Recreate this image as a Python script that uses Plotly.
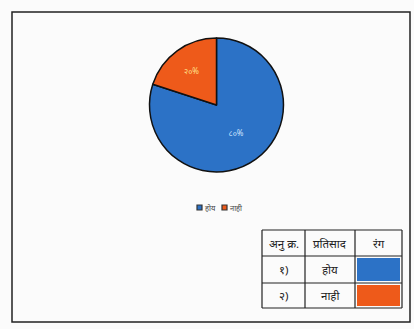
import plotly.graph_objects as go

categories = ["होय", "नाही"]
values = [80, 20]
pct_labels = ["८०%", "२०%"]
colors = ["#2c72c6", "#ee5a1a"]
table_header = ["अनु क्र.", "प्रतिसाद", "रंग"]
serials = ["१)", "२)"]

W, H = 414, 329
def px(x): return x / W
def py(y): return 1 - y / H

FONT = "Noto Sans, DejaVu Sans, sans-serif"

fig = go.Figure()
fig.add_trace(go.Pie(
    labels=categories, values=values, text=pct_labels,
    textinfo="text", textposition="inside",
    insidetextfont=dict(color=["#cfe6ff", "#ffe08a"], size=8, family=FONT),
    marker=dict(colors=colors, line=dict(color="#111111", width=1.5)),
    sort=False, direction="clockwise", rotation=0,
    domain=dict(x=[px(149.5), px(283.5)], y=[py(172), py(38)]),
    showlegend=False, hoverinfo="label+percent",
))

shapes = []
annotations = []
# outer frame
shapes.append(dict(type="rect", xref="paper", yref="paper",
                   x0=px(12), x1=px(410), y0=py(322), y1=py(12),
                   line=dict(color="#222", width=1.5)))

# manual legend
legend_pos = [197, 222]
for cat, col, x0 in zip(categories, colors, legend_pos):
    shapes.append(dict(type="rect", xref="paper", yref="paper",
                       x0=px(x0), x1=px(x0 + 5), y0=py(210), y1=py(205),
                       fillcolor=col, line=dict(color="#333", width=1.2)))
    annotations.append(dict(xref="paper", yref="paper", x=px(x0 + 6), y=py(207.5),
                            text=cat, showarrow=False, xanchor="left", yanchor="middle",
                            font=dict(size=7.5, family=FONT, color="#444")))

# table
col_x = [262, 305, 355, 402]
row_y = [230, 256, 283, 308]
for r in range(2):
    shapes.append(dict(type="rect", xref="paper", yref="paper",
                       x0=px(col_x[2] + 2), x1=px(col_x[3] - 2),
                       y0=py(row_y[r + 2] - 2), y1=py(row_y[r + 1] + 2),
                       fillcolor=colors[r], line=dict(width=0)))
for x in col_x:
    shapes.append(dict(type="line", xref="paper", yref="paper",
                       x0=px(x), x1=px(x), y0=py(row_y[0]), y1=py(row_y[-1]),
                       line=dict(color="#222", width=1.2)))
for y in row_y:
    shapes.append(dict(type="line", xref="paper", yref="paper",
                       x0=px(col_x[0]), x1=px(col_x[-1]), y0=py(y), y1=py(y),
                       line=dict(color="#222", width=1.2)))
for j, t in enumerate(table_header):
    annotations.append(dict(xref="paper", yref="paper",
                            x=px((col_x[j] + col_x[j + 1]) / 2), y=py((row_y[0] + row_y[1]) / 2),
                            xanchor="center", yanchor="middle",
                            text=t, showarrow=False, font=dict(size=11.5, family=FONT, color="#222")))
for r in range(2):
    yc = py((row_y[r + 1] + row_y[r + 2]) / 2)
    annotations.append(dict(xref="paper", yref="paper", x=px((col_x[0] + col_x[1]) / 2), y=yc,
                            xanchor="center", yanchor="middle",
                            text=serials[r], showarrow=False,
                            font=dict(size=11.5, family=FONT, color="#222")))
    annotations.append(dict(xref="paper", yref="paper", x=px((col_x[1] + col_x[2]) / 2), y=yc,
                            xanchor="center", yanchor="middle",
                            text=categories[r], showarrow=False,
                            font=dict(size=11.5, family=FONT, color="#222")))

fig.update_layout(width=W, height=H, margin=dict(l=0, r=0, t=0, b=0),
                  paper_bgcolor="#fbfbfb", plot_bgcolor="#fbfbfb",
                  shapes=shapes, annotations=annotations, showlegend=False)
fig.write_html("out.html", config={"displayModeBar": False},
               post_script="document.body.style.margin='0';")
